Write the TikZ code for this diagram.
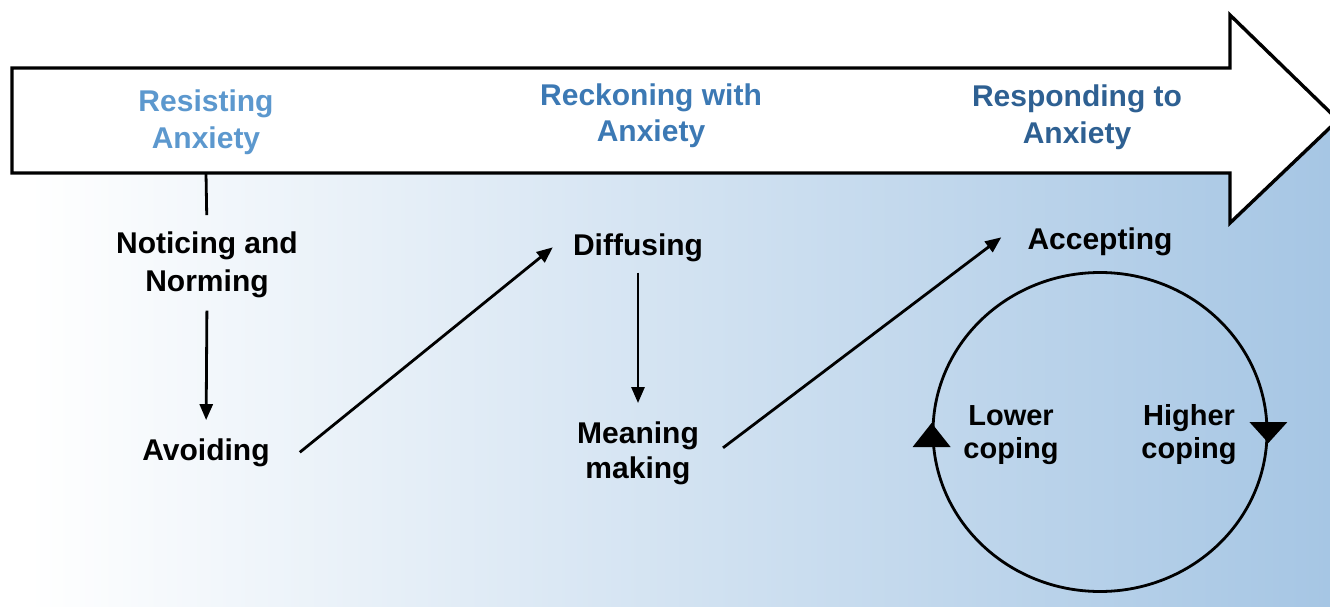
\documentclass[tikz,border=0pt]{standalone}
\usepackage{fontspec}
\setmainfont{Liberation Sans}
\usetikzlibrary{arrows.meta,calc,shapes.geometric}
\definecolor{bgblue}{RGB}{166,198,228}
\definecolor{headA}{RGB}{92,152,206}
\definecolor{headB}{RGB}{60,121,180}
\definecolor{headC}{RGB}{46,96,146}
\begin{document}
\begin{tikzpicture}[x=1pt,y=-1pt,
  lbl/.style={font=\fontsize{30}{38}\selectfont\bfseries, align=center, inner sep=0pt, anchor=base},
  small/.style={font=\fontsize{29}{33}\selectfont\bfseries, align=center, inner sep=0pt, anchor=base},
  head/.style={font=\fontsize{30}{36}\selectfont\bfseries, align=center, inner sep=0pt, anchor=base},
  link/.style={line width=2.8pt, -{Triangle[length=16pt,width=13pt]}},
  plain/.style={line width=2.8pt},
  tip/.style={fill=black},
]
\useasboundingbox (0,0) rectangle (1330,607);

% background wash and the big stage arrow
\begin{scope}
  \clip (0,0) rectangle (1330,607);
  \shade[left color=white, right color=bgblue] (28,120) rectangle (1330,607);
  \draw[line width=3.4pt, fill=white, line join=miter]
    (12,68) -- (1230,68) -- (1230,15) -- (1338,120) -- (1230,223) -- (1230,173) -- (12,173) -- cycle;
\end{scope}
\coordinate (stem) at (206,173);

% stage titles (anchored on the baseline of their last line)
\node[head, text=headA] (t1) at (206,148) {Resisting\\Anxiety};
\node[head, text=headB] (t2) at (651,142) {Reckoning with\\Anxiety};
\node[head, text=headC] (t3) at (1077,143) {Responding to\\Anxiety};

% steps
\node[lbl] (n1) at (207,291) {Noticing and\\Norming};
\node[lbl] (n2) at (206,460) {Avoiding};
\node[lbl] (n3) at (638,255) {Diffusing};
\node[lbl, font=\fontsize{30}{35}\selectfont\bfseries] (n4) at (638,478) {Meaning\\making};
\node[lbl] (n5) at (1100,249) {Accepting};

% coping cycle
\node[draw, line width=2.8pt, ellipse, minimum width=334pt, minimum height=319pt, inner sep=0pt] (cyc) at (1100,432) {};
\node[small] (lo) at (1011,458) {Lower\\coping};
\node[small] (hi) at (1189,458) {Higher\\coping};
\fill[tip] ($(cyc.west)+(0,-9)$) -- ($(cyc.west)+(-19,15)$) -- ($(cyc.west)+(19,15)$) -- cycle;
\fill[tip] ($(cyc.east)+(0,11)$) -- ($(cyc.east)+(-19,-10)$) -- ($(cyc.east)+(19,-10)$) -- cycle;

% connectors
\draw[plain, shorten >=16pt] (stem) -- (n1.north);
\draw[link, shorten <=13pt, shorten >=18pt] (n1.south) -- (n2.north);
\draw[plain, -{Triangle[length=16pt,width=13pt]}] ([xshift=30pt]n2.east) -- ([xshift=-20pt]n3.west);
\draw[link, shorten <=11pt, shorten >=18pt] (n3.south) -- (n4.north);
\draw[plain, -{Triangle[length=16pt,width=13pt]}] ([xshift=24pt,yshift=5pt]n4.east) -- ([xshift=-26pt,yshift=4pt]n5.west);
\end{tikzpicture}
\end{document}
